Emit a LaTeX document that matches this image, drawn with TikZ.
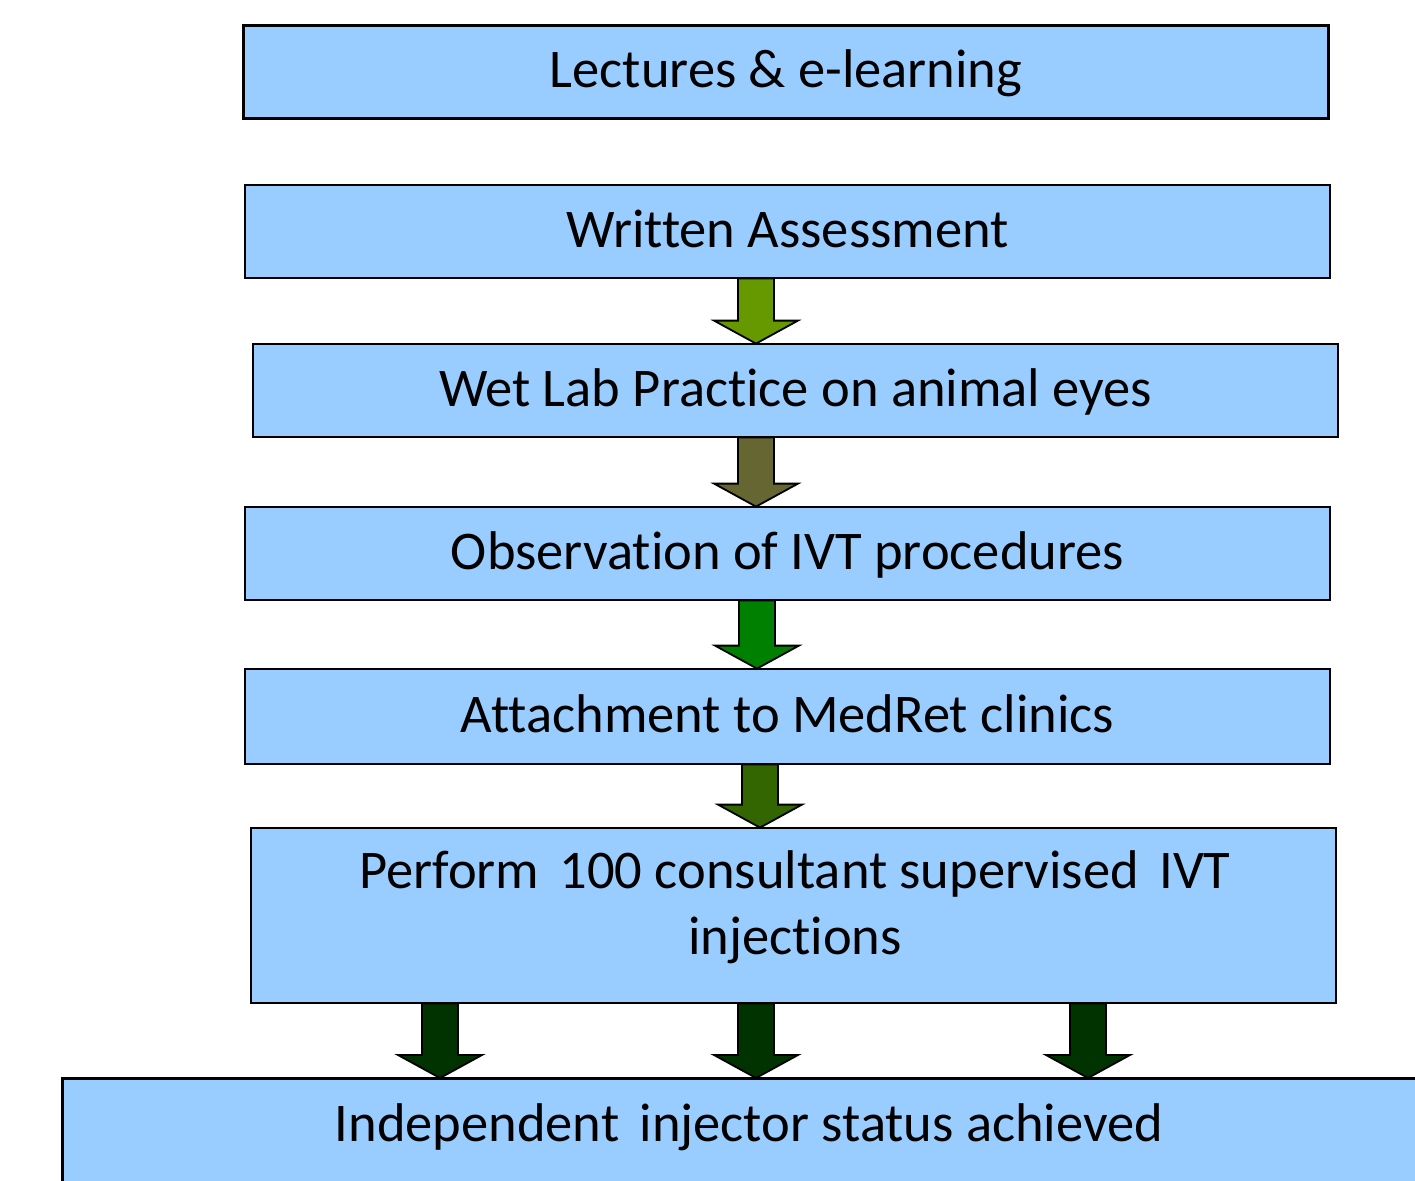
\documentclass[tikz,border=0pt]{standalone}
\usepackage{fontspec}
\setmainfont{Carlito}[Ligatures={NoCommon}]
\usetikzlibrary{calc}
\definecolor{boxfill}{HTML}{99CCFF}
\definecolor{arrA}{HTML}{669900}
\definecolor{arrB}{HTML}{666633}
\definecolor{arrC}{HTML}{008000}
\definecolor{arrD}{HTML}{336600}
\definecolor{arrE}{HTML}{003300}
\tikzset{
  box/.style={draw=black, line width=2.8pt, fill=boxfill, inner sep=0pt,
    minimum width=1085pt, minimum height=93pt,
    font=\fontsize{54.5}{66}\selectfont, text height=31pt, text depth=0pt},
  boxtext/.style={inner sep=0pt, anchor=base, font=\fontsize{54.5}{66}\selectfont},
  blockarrow/.style={draw=black, line width=1.8pt, line join=miter}
}
\newcommand\blkarrow[4]{%
  \draw[blockarrow, fill=#4] let \p1=(#1.south), \p2=(#2.north) in
    ({#3pt-18pt},{\y1+1pt}) -- ({#3pt+18pt},{\y1+1pt}) -- ({#3pt+18pt},{\y2+22pt})
    -- ({#3pt+42pt},{\y2+22pt}) -- ({#3pt},{\y2-1pt}) -- ({#3pt-42pt},{\y2+22pt})
    -- ({#3pt-18pt},{\y2+22pt}) -- cycle;}
\begin{document}
\begin{tikzpicture}[x=1pt,y=-1pt]
\useasboundingbox (0,0) rectangle (1415,1180);
\clip (0,0) rectangle (1415,1180);
\node[box] (b1) at (786,72) {Lectures \& e-learning};
\node[box] (b2) at (787.5,231.5) {Written Assessment};
\node[box] (b3) at (795.5,390.5) {Wet Lab Practice on animal eyes};
\node[box] (b4) at (787.5,553.5) {Observation of IVT procedures};
\node[box, minimum height=95pt] (b5) at (787.5,716.5) {Attachment to MedRet clinics};
\node[box, minimum height=175pt] (b6) at (793.5,915.5) {};
\node[boxtext] (b6a) at (795,888) {Perform\hspace{8pt} 100 consultant supervised\hspace{8pt} IVT};
\node[boxtext] (b6b) at (795,954) {injections};
\node[box, minimum width=1380pt, minimum height=180pt, anchor=north west] (b7) at (61,1077) {};
\node[boxtext] (b7t) at (749,1141) {Independent\hspace{8pt} injector status achieved};
\blkarrow{b2}{b3}{756}{arrA}
\blkarrow{b3}{b4}{756}{arrB}
\blkarrow{b4}{b5}{757}{arrC}
\blkarrow{b5}{b6}{760}{arrD}
\blkarrow{b6}{b7}{440}{arrE}
\blkarrow{b6}{b7}{756}{arrE}
\blkarrow{b6}{b7}{1088}{arrE}
\end{tikzpicture}
\end{document}
